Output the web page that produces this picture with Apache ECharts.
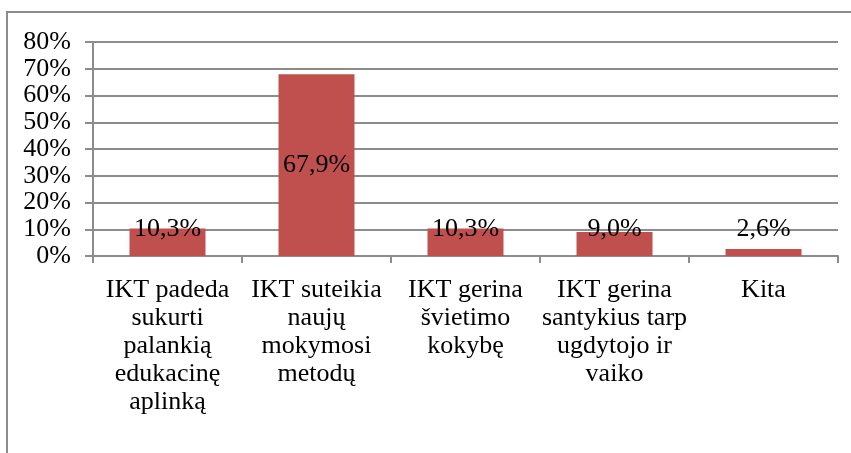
<!DOCTYPE html>
<html>
<head>
<meta charset="utf-8">
<script src="https://cdn.jsdelivr.net/npm/echarts@6/dist/echarts.min.js"></script>
<style>
  html, body { margin: 0; padding: 0; background: #fff; }
  #con { width: 851px; height: 453px; }
</style>
</head>
<body>
<div id="con"></div>
<script>
// data
var categories = [
    'IKT padeda\nsukurti\npalankią\nedukacinę\naplinką',
    'IKT suteikia\nnaujų\nmokymosi\nmetodų',
    'IKT gerina\nšvietimo\nkokybę',
    'IKT gerina\nsantykius tarp\nugdytojo ir\nvaiko',
    'Kita'
];
var values = [10.3, 67.9, 10.3, 9.0, 2.6];
var yTicks = [0, 10, 20, 30, 40, 50, 60, 70, 80];

var font = 'Liberation Serif';
var barColor = '#C0504D';

var seriesData = [];
for (var i = 0; i < values.length; i++) {
    var item = { value: values[i] };
    if (values[i] < 30) {
        item.label = { position: 'insideBottom', distance: 14 };
    }
    seriesData.push(item);
}

var myChart = echarts.init(document.getElementById('con'));

var option = {
    animation: false,
    backgroundColor: '#fff',
    graphic: [{
        type: 'rect',
        shape: { x: 7, y: 12, width: 900, height: 500 },
        style: { fill: 'none', stroke: '#8c8c8c', lineWidth: 2 },
        silent: true
    }],
    grid: { left: 93, right: 13, top: 42, bottom: 197 },
    xAxis: {
        type: 'category',
        data: categories,
        axisLine: { lineStyle: { color: '#8c8c8c', width: 2 } },
        axisTick: { show: true, length: 7, lineStyle: { color: '#8c8c8c', width: 2 } },
        axisLabel: {
            interval: 0,
            margin: 20,
            color: '#000',
            fontFamily: font,
            fontSize: 26,
            lineHeight: 28,
            align: 'center'
        }
    },
    yAxis: {
        type: 'value',
        min: yTicks[0],
        max: yTicks[yTicks.length - 1],
        interval: 10,
        axisLine: { show: true, lineStyle: { color: '#8c8c8c', width: 2 } },
        axisTick: { show: true, length: 8, lineStyle: { color: '#8c8c8c', width: 2 } },
        splitLine: { lineStyle: { color: '#8c8c8c', width: 2 } },
        axisLabel: {
            margin: 22,
            color: '#000',
            fontFamily: font,
            fontSize: 26,
            formatter: '{value}%'
        }
    },
    series: [{
        type: 'bar',
        data: seriesData,
        barCategoryGap: '49%',
        itemStyle: { color: barColor },
        label: {
            show: true,
            position: 'inside',
            color: '#000',
            fontFamily: font,
            fontSize: 26,
            formatter: function (p) {
                return p.value.toFixed(1).replace('.', ',') + '%';
            }
        }
    }]
};
myChart.setOption(option);
</script>
</body>
</html>
